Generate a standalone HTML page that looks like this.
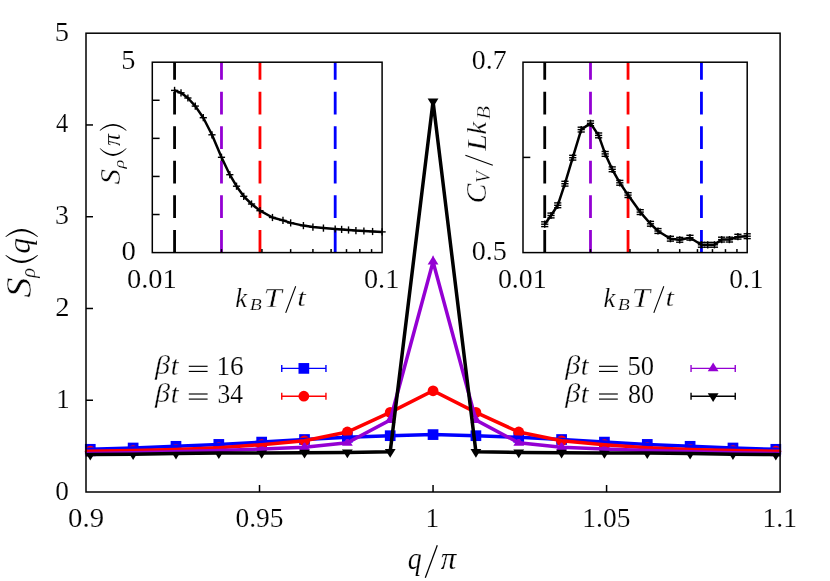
<!DOCTYPE html>
<html><head><meta charset="utf-8"><title>S_rho(q)</title>
<style>
html,body{margin:0;padding:0;background:#fff;}
body{width:830px;height:581px;overflow:hidden;font-family:"Liberation Serif",serif;}
svg{display:block;}
</style></head><body>
<svg width="830" height="581" viewBox="0 0 830 581">
<rect width="830" height="581" fill="#fff"/>
<defs><clipPath id="cm"><rect x="86.0" y="33.2" width="694.1" height="458.8"/></clipPath></defs>
<rect x="84.93" y="443.95" width="10.7" height="10.7" fill="#0000ff"/>
<rect x="127.78" y="442.65" width="10.7" height="10.7" fill="#0000ff"/>
<rect x="170.63" y="440.95" width="10.7" height="10.7" fill="#0000ff"/>
<rect x="213.47" y="439.05" width="10.7" height="10.7" fill="#0000ff"/>
<rect x="256.32" y="436.75" width="10.7" height="10.7" fill="#0000ff"/>
<rect x="299.16" y="434.15" width="10.7" height="10.7" fill="#0000ff"/>
<rect x="342.01" y="431.95" width="10.7" height="10.7" fill="#0000ff"/>
<rect x="384.85" y="430.35" width="10.7" height="10.7" fill="#0000ff"/>
<rect x="427.70" y="429.25" width="10.7" height="10.7" fill="#0000ff"/>
<rect x="470.55" y="430.35" width="10.7" height="10.7" fill="#0000ff"/>
<rect x="513.39" y="431.95" width="10.7" height="10.7" fill="#0000ff"/>
<rect x="556.24" y="434.15" width="10.7" height="10.7" fill="#0000ff"/>
<rect x="599.08" y="436.75" width="10.7" height="10.7" fill="#0000ff"/>
<rect x="641.93" y="439.05" width="10.7" height="10.7" fill="#0000ff"/>
<rect x="684.77" y="440.95" width="10.7" height="10.7" fill="#0000ff"/>
<rect x="727.62" y="442.65" width="10.7" height="10.7" fill="#0000ff"/>
<rect x="770.47" y="443.95" width="10.7" height="10.7" fill="#0000ff"/>
<circle cx="90.28" cy="451.20" r="5.4" fill="#ff0000"/>
<circle cx="133.13" cy="450.60" r="5.4" fill="#ff0000"/>
<circle cx="175.98" cy="449.50" r="5.4" fill="#ff0000"/>
<circle cx="218.82" cy="447.70" r="5.4" fill="#ff0000"/>
<circle cx="261.67" cy="444.70" r="5.4" fill="#ff0000"/>
<circle cx="304.51" cy="440.80" r="5.4" fill="#ff0000"/>
<circle cx="347.36" cy="432.00" r="5.4" fill="#ff0000"/>
<circle cx="390.20" cy="412.40" r="5.4" fill="#ff0000"/>
<circle cx="433.05" cy="390.80" r="5.4" fill="#ff0000"/>
<circle cx="475.90" cy="412.40" r="5.4" fill="#ff0000"/>
<circle cx="518.74" cy="432.00" r="5.4" fill="#ff0000"/>
<circle cx="561.59" cy="440.80" r="5.4" fill="#ff0000"/>
<circle cx="604.43" cy="444.70" r="5.4" fill="#ff0000"/>
<circle cx="647.28" cy="447.70" r="5.4" fill="#ff0000"/>
<circle cx="690.12" cy="449.50" r="5.4" fill="#ff0000"/>
<circle cx="732.97" cy="450.60" r="5.4" fill="#ff0000"/>
<circle cx="775.82" cy="451.20" r="5.4" fill="#ff0000"/>
<polygon points="90.28,447.50 84.88,456.30 95.68,456.30" fill="#9400d3"/>
<polygon points="133.13,446.80 127.73,455.60 138.53,455.60" fill="#9400d3"/>
<polygon points="175.98,445.80 170.58,454.60 181.38,454.60" fill="#9400d3"/>
<polygon points="218.82,444.60 213.42,453.40 224.22,453.40" fill="#9400d3"/>
<polygon points="261.67,443.10 256.27,451.90 267.07,451.90" fill="#9400d3"/>
<polygon points="304.51,441.40 299.11,450.20 309.91,450.20" fill="#9400d3"/>
<polygon points="347.36,436.90 341.96,445.70 352.76,445.70" fill="#9400d3"/>
<polygon points="390.20,414.10 384.80,422.90 395.60,422.90" fill="#9400d3"/>
<polygon points="433.05,255.80 427.65,264.60 438.45,264.60" fill="#9400d3"/>
<polygon points="475.90,414.10 470.50,422.90 481.30,422.90" fill="#9400d3"/>
<polygon points="518.74,436.90 513.34,445.70 524.14,445.70" fill="#9400d3"/>
<polygon points="561.59,441.40 556.19,450.20 566.99,450.20" fill="#9400d3"/>
<polygon points="604.43,443.10 599.03,451.90 609.83,451.90" fill="#9400d3"/>
<polygon points="647.28,444.60 641.88,453.40 652.68,453.40" fill="#9400d3"/>
<polygon points="690.12,445.80 684.72,454.60 695.52,454.60" fill="#9400d3"/>
<polygon points="732.97,446.80 727.57,455.60 738.37,455.60" fill="#9400d3"/>
<polygon points="775.82,447.50 770.42,456.30 781.22,456.30" fill="#9400d3"/>
<polygon points="90.28,460.50 84.88,451.70 95.68,451.70" fill="#000000"/>
<polygon points="133.13,460.10 127.73,451.30 138.53,451.30" fill="#000000"/>
<polygon points="175.98,459.50 170.58,450.70 181.38,450.70" fill="#000000"/>
<polygon points="218.82,459.00 213.42,450.20 224.22,450.20" fill="#000000"/>
<polygon points="261.67,458.80 256.27,450.00 267.07,450.00" fill="#000000"/>
<polygon points="304.51,458.60 299.11,449.80 309.91,449.80" fill="#000000"/>
<polygon points="347.36,458.30 341.96,449.50 352.76,449.50" fill="#000000"/>
<polygon points="390.20,457.70 384.80,448.90 395.60,448.90" fill="#000000"/>
<polygon points="433.05,107.30 427.65,98.50 438.45,98.50" fill="#000000"/>
<polygon points="475.90,457.70 470.50,448.90 481.30,448.90" fill="#000000"/>
<polygon points="518.74,458.30 513.34,449.50 524.14,449.50" fill="#000000"/>
<polygon points="561.59,458.60 556.19,449.80 566.99,449.80" fill="#000000"/>
<polygon points="604.43,458.80 599.03,450.00 609.83,450.00" fill="#000000"/>
<polygon points="647.28,459.00 641.88,450.20 652.68,450.20" fill="#000000"/>
<polygon points="690.12,459.50 684.72,450.70 695.52,450.70" fill="#000000"/>
<polygon points="732.97,460.10 727.57,451.30 738.37,451.30" fill="#000000"/>
<polygon points="775.82,460.50 770.42,451.70 781.22,451.70" fill="#000000"/>
<g clip-path="url(#cm)" fill="none" stroke-linejoin="miter" stroke-miterlimit="4" stroke-linecap="butt">
<polyline points="47.44,450.40 90.28,449.30 133.13,448.00 175.98,446.30 218.82,444.40 261.67,442.10 304.51,439.50 347.36,437.30 390.20,435.70 433.05,434.60 475.90,435.70 518.74,437.30 561.59,439.50 604.43,442.10 647.28,444.40 690.12,446.30 732.97,448.00 775.82,449.30 818.66,450.40" stroke="#0000ff" stroke-width="3.5"/>
<polyline points="47.44,451.60 90.28,451.20 133.13,450.60 175.98,449.50 218.82,447.70 261.67,444.70 304.51,440.80 347.36,432.00 390.20,412.40 433.05,390.80 475.90,412.40 518.74,432.00 561.59,440.80 604.43,444.70 647.28,447.70 690.12,449.50 732.97,450.60 775.82,451.20 818.66,451.60" stroke="#ff0000" stroke-width="3.5"/>
<polyline points="47.44,453.90 90.28,453.40 133.13,452.70 175.98,451.70 218.82,450.50 261.67,449.00 304.51,447.30 347.36,442.80 390.20,420.00 433.05,261.70 475.90,420.00 518.74,442.80 561.59,447.30 604.43,449.00 647.28,450.50 690.12,451.70 732.97,452.70 775.82,453.40 818.66,453.90" stroke="#9400d3" stroke-width="3.5"/>
<polyline points="47.44,454.90 90.28,454.60 133.13,454.20 175.98,453.60 218.82,453.10 261.67,452.90 304.51,452.70 347.36,452.40 390.20,451.80 433.05,101.40 475.90,451.80 518.74,452.40 561.59,452.70 604.43,452.90 647.28,453.10 690.12,453.60 732.97,454.20 775.82,454.60 818.66,454.90" stroke="#000000" stroke-width="3.5"/>
</g>
<g stroke="#000" stroke-width="1.5" fill="none">
<rect x="86.0" y="33.2" width="694.10" height="458.80"/>
<line x1="86.0" y1="400.24" x2="93.0" y2="400.24"/>
<line x1="86.0" y1="308.48" x2="93.0" y2="308.48"/>
<line x1="86.0" y1="216.72" x2="93.0" y2="216.72"/>
<line x1="86.0" y1="124.96" x2="93.0" y2="124.96"/>
<line x1="259.52" y1="492.0" x2="259.52" y2="485.0"/>
<line x1="433.05" y1="492.0" x2="433.05" y2="485.0"/>
<line x1="606.58" y1="492.0" x2="606.58" y2="485.0"/>
</g>
<g stroke="#0000ff" stroke-width="1.4"><line x1="281.75" y1="368.4" x2="325.95000000000005" y2="368.4"/><line x1="281.75" y1="364.9" x2="281.75" y2="371.9"/><line x1="325.95000000000005" y1="364.9" x2="325.95000000000005" y2="371.9"/></g>
<rect x="298.50" y="363.05" width="10.7" height="10.7" fill="#0000ff"/>
<g stroke="#ff0000" stroke-width="1.4"><line x1="281.75" y1="396.2" x2="325.95000000000005" y2="396.2"/><line x1="281.75" y1="392.7" x2="281.75" y2="399.7"/><line x1="325.95000000000005" y1="392.7" x2="325.95000000000005" y2="399.7"/></g>
<circle cx="303.85" cy="396.20" r="5.4" fill="#ff0000"/>
<g stroke="#9400d3" stroke-width="1.4"><line x1="691.05" y1="368.4" x2="735.25" y2="368.4"/><line x1="691.05" y1="364.9" x2="691.05" y2="371.9"/><line x1="735.25" y1="364.9" x2="735.25" y2="371.9"/></g>
<polygon points="713.15,362.50 707.75,371.30 718.55,371.30" fill="#9400d3"/>
<g stroke="#000000" stroke-width="1.4"><line x1="691.05" y1="396.2" x2="735.25" y2="396.2"/><line x1="691.05" y1="392.7" x2="691.05" y2="399.7"/><line x1="735.25" y1="392.7" x2="735.25" y2="399.7"/></g>
<polygon points="713.15,402.10 707.75,393.30 718.55,393.30" fill="#000000"/>
<g stroke="#000" stroke-width="1.15">
<line x1="188.8" y1="366.3" x2="207.6" y2="366.3"/>
<line x1="188.8" y1="371.4" x2="207.6" y2="371.4"/>
<line x1="188.8" y1="394.0" x2="207.6" y2="394.0"/>
<line x1="188.8" y1="399.1" x2="207.6" y2="399.1"/>
<line x1="599.0" y1="366.3" x2="617.8" y2="366.3"/>
<line x1="599.0" y1="371.4" x2="617.8" y2="371.4"/>
<line x1="599.0" y1="394.0" x2="617.8" y2="394.0"/>
<line x1="599.0" y1="399.1" x2="617.8" y2="399.1"/>
</g>
<rect x="152.3" y="62.2" width="229.80" height="190.40" fill="#fff"/>
<line x1="335.19" y1="252.6" x2="335.19" y2="62.2" stroke="#0000ff" stroke-width="2.8" stroke-dasharray="22.7 11.85"/>
<line x1="259.97" y1="252.6" x2="259.97" y2="62.2" stroke="#ff0000" stroke-width="2.8" stroke-dasharray="22.7 11.85"/>
<line x1="221.48" y1="252.6" x2="221.48" y2="62.2" stroke="#9400d3" stroke-width="2.8" stroke-dasharray="22.7 11.85"/>
<line x1="174.57" y1="252.6" x2="174.57" y2="62.2" stroke="#000000" stroke-width="2.8" stroke-dasharray="22.7 11.85"/>
<polyline points="174.57,90.40 181.01,92.80 187.90,98.00 195.29,106.10 203.28,117.70 211.96,134.80 221.48,157.30 229.80,174.70 236.53,186.20 243.75,196.30 251.53,204.00 259.97,210.70 272.46,217.50 282.97,220.40 290.65,222.90 303.41,225.60 312.92,227.10 323.44,228.10 335.19,229.00 341.63,229.40 348.52,230.00 355.92,230.60 363.90,231.00 372.59,231.50 382.10,231.90" fill="none" stroke="#000" stroke-width="2.5" stroke-linejoin="round"/>
<g stroke="#000" stroke-width="1.4">
<line x1="170.97" y1="90.40" x2="178.17" y2="90.40"/><line x1="174.57" y1="86.80" x2="174.57" y2="94.00"/>
<line x1="177.41" y1="92.80" x2="184.61" y2="92.80"/><line x1="181.01" y1="89.20" x2="181.01" y2="96.40"/>
<line x1="184.30" y1="98.00" x2="191.50" y2="98.00"/><line x1="187.90" y1="94.40" x2="187.90" y2="101.60"/>
<line x1="191.69" y1="106.10" x2="198.89" y2="106.10"/><line x1="195.29" y1="102.50" x2="195.29" y2="109.70"/>
<line x1="199.68" y1="117.70" x2="206.88" y2="117.70"/><line x1="203.28" y1="114.10" x2="203.28" y2="121.30"/>
<line x1="208.36" y1="134.80" x2="215.56" y2="134.80"/><line x1="211.96" y1="131.20" x2="211.96" y2="138.40"/>
<line x1="217.88" y1="157.30" x2="225.08" y2="157.30"/><line x1="221.48" y1="153.70" x2="221.48" y2="160.90"/>
<line x1="226.20" y1="174.70" x2="233.40" y2="174.70"/><line x1="229.80" y1="171.10" x2="229.80" y2="178.30"/>
<line x1="232.93" y1="186.20" x2="240.13" y2="186.20"/><line x1="236.53" y1="182.60" x2="236.53" y2="189.80"/>
<line x1="240.15" y1="196.30" x2="247.35" y2="196.30"/><line x1="243.75" y1="192.70" x2="243.75" y2="199.90"/>
<line x1="247.93" y1="204.00" x2="255.13" y2="204.00"/><line x1="251.53" y1="200.40" x2="251.53" y2="207.60"/>
<line x1="256.37" y1="210.70" x2="263.57" y2="210.70"/><line x1="259.97" y1="207.10" x2="259.97" y2="214.30"/>
<line x1="268.86" y1="217.50" x2="276.06" y2="217.50"/><line x1="272.46" y1="213.90" x2="272.46" y2="221.10"/>
<line x1="279.37" y1="220.40" x2="286.57" y2="220.40"/><line x1="282.97" y1="216.80" x2="282.97" y2="224.00"/>
<line x1="287.05" y1="222.90" x2="294.25" y2="222.90"/><line x1="290.65" y1="219.30" x2="290.65" y2="226.50"/>
<line x1="299.81" y1="225.60" x2="307.01" y2="225.60"/><line x1="303.41" y1="222.00" x2="303.41" y2="229.20"/>
<line x1="309.32" y1="227.10" x2="316.52" y2="227.10"/><line x1="312.92" y1="223.50" x2="312.92" y2="230.70"/>
<line x1="319.84" y1="228.10" x2="327.04" y2="228.10"/><line x1="323.44" y1="224.50" x2="323.44" y2="231.70"/>
<line x1="331.59" y1="229.00" x2="338.79" y2="229.00"/><line x1="335.19" y1="225.40" x2="335.19" y2="232.60"/>
<line x1="338.03" y1="229.40" x2="345.23" y2="229.40"/><line x1="341.63" y1="225.80" x2="341.63" y2="233.00"/>
<line x1="344.92" y1="230.00" x2="352.12" y2="230.00"/><line x1="348.52" y1="226.40" x2="348.52" y2="233.60"/>
<line x1="352.32" y1="230.60" x2="359.52" y2="230.60"/><line x1="355.92" y1="227.00" x2="355.92" y2="234.20"/>
<line x1="360.30" y1="231.00" x2="367.50" y2="231.00"/><line x1="363.90" y1="227.40" x2="363.90" y2="234.60"/>
<line x1="368.99" y1="231.50" x2="376.19" y2="231.50"/><line x1="372.59" y1="227.90" x2="372.59" y2="235.10"/>
<line x1="378.50" y1="231.90" x2="385.70" y2="231.90"/><line x1="382.10" y1="228.30" x2="382.10" y2="235.50"/>
</g>
<g stroke="#000" stroke-width="1.5" fill="none">
<rect x="152.3" y="62.2" width="229.80" height="190.40"/>
<line x1="152.3" y1="214.52" x2="159.60000000000002" y2="214.52"/>
<line x1="152.3" y1="176.44" x2="159.60000000000002" y2="176.44"/>
<line x1="152.3" y1="138.36" x2="159.60000000000002" y2="138.36"/>
<line x1="152.3" y1="100.28" x2="159.60000000000002" y2="100.28"/>
<line x1="221.48" y1="252.6" x2="221.48" y2="249.1"/>
<line x1="261.94" y1="252.6" x2="261.94" y2="249.1"/>
<line x1="290.65" y1="252.6" x2="290.65" y2="249.1"/>
<line x1="312.92" y1="252.6" x2="312.92" y2="249.1"/>
<line x1="331.12" y1="252.6" x2="331.12" y2="249.1"/>
<line x1="346.50" y1="252.6" x2="346.50" y2="249.1"/>
<line x1="359.83" y1="252.6" x2="359.83" y2="249.1"/>
<line x1="371.58" y1="252.6" x2="371.58" y2="249.1"/>
</g>
<rect x="523.0" y="62.2" width="224.20" height="190.40" fill="#fff"/>
<line x1="701.44" y1="252.6" x2="701.44" y2="62.2" stroke="#0000ff" stroke-width="2.8" stroke-dasharray="22.7 11.85"/>
<line x1="628.04" y1="252.6" x2="628.04" y2="62.2" stroke="#ff0000" stroke-width="2.8" stroke-dasharray="22.7 11.85"/>
<line x1="590.49" y1="252.6" x2="590.49" y2="62.2" stroke="#9400d3" stroke-width="2.8" stroke-dasharray="22.7 11.85"/>
<line x1="544.73" y1="252.6" x2="544.73" y2="62.2" stroke="#000000" stroke-width="2.8" stroke-dasharray="22.7 11.85"/>
<polyline points="544.73,224.20 551.01,215.50 557.73,205.30 564.94,183.70 572.74,157.70 581.21,129.60 590.49,123.30 598.61,135.40 605.18,153.90 612.22,169.30 619.81,182.80 628.04,195.10 640.23,212.10 650.49,223.80 657.98,231.00 670.43,238.70 679.71,239.80 689.97,237.70 701.44,244.80 707.72,244.80 714.44,244.80 721.65,239.60 729.45,239.60 737.92,236.70 747.20,236.20" fill="none" stroke="#000" stroke-width="2.5" stroke-linejoin="round"/>
<g stroke="#000" stroke-width="1.4">
<line x1="541.13" y1="224.20" x2="548.33" y2="224.20"/><line x1="544.73" y1="220.60" x2="544.73" y2="227.80"/>
<line x1="541.13" y1="221.80" x2="548.33" y2="221.80"/><line x1="541.13" y1="226.60" x2="548.33" y2="226.60"/>
<line x1="547.41" y1="215.50" x2="554.61" y2="215.50"/><line x1="551.01" y1="211.90" x2="551.01" y2="219.10"/>
<line x1="547.41" y1="213.10" x2="554.61" y2="213.10"/><line x1="547.41" y1="217.90" x2="554.61" y2="217.90"/>
<line x1="554.13" y1="205.30" x2="561.33" y2="205.30"/><line x1="557.73" y1="201.70" x2="557.73" y2="208.90"/>
<line x1="554.13" y1="202.90" x2="561.33" y2="202.90"/><line x1="554.13" y1="207.70" x2="561.33" y2="207.70"/>
<line x1="561.34" y1="183.70" x2="568.54" y2="183.70"/><line x1="564.94" y1="180.10" x2="564.94" y2="187.30"/>
<line x1="561.34" y1="181.30" x2="568.54" y2="181.30"/><line x1="561.34" y1="186.10" x2="568.54" y2="186.10"/>
<line x1="569.14" y1="157.70" x2="576.34" y2="157.70"/><line x1="572.74" y1="154.10" x2="572.74" y2="161.30"/>
<line x1="569.14" y1="155.30" x2="576.34" y2="155.30"/><line x1="569.14" y1="160.10" x2="576.34" y2="160.10"/>
<line x1="577.61" y1="129.60" x2="584.81" y2="129.60"/><line x1="581.21" y1="126.00" x2="581.21" y2="133.20"/>
<line x1="577.61" y1="127.20" x2="584.81" y2="127.20"/><line x1="577.61" y1="132.00" x2="584.81" y2="132.00"/>
<line x1="586.89" y1="123.30" x2="594.09" y2="123.30"/><line x1="590.49" y1="119.70" x2="590.49" y2="126.90"/>
<line x1="586.89" y1="120.90" x2="594.09" y2="120.90"/><line x1="586.89" y1="125.70" x2="594.09" y2="125.70"/>
<line x1="595.01" y1="135.40" x2="602.21" y2="135.40"/><line x1="598.61" y1="131.80" x2="598.61" y2="139.00"/>
<line x1="595.01" y1="133.00" x2="602.21" y2="133.00"/><line x1="595.01" y1="137.80" x2="602.21" y2="137.80"/>
<line x1="601.58" y1="153.90" x2="608.78" y2="153.90"/><line x1="605.18" y1="150.30" x2="605.18" y2="157.50"/>
<line x1="601.58" y1="151.50" x2="608.78" y2="151.50"/><line x1="601.58" y1="156.30" x2="608.78" y2="156.30"/>
<line x1="608.62" y1="169.30" x2="615.82" y2="169.30"/><line x1="612.22" y1="165.70" x2="612.22" y2="172.90"/>
<line x1="608.62" y1="166.90" x2="615.82" y2="166.90"/><line x1="608.62" y1="171.70" x2="615.82" y2="171.70"/>
<line x1="616.21" y1="182.80" x2="623.41" y2="182.80"/><line x1="619.81" y1="179.20" x2="619.81" y2="186.40"/>
<line x1="616.21" y1="180.40" x2="623.41" y2="180.40"/><line x1="616.21" y1="185.20" x2="623.41" y2="185.20"/>
<line x1="624.44" y1="195.10" x2="631.64" y2="195.10"/><line x1="628.04" y1="191.50" x2="628.04" y2="198.70"/>
<line x1="624.44" y1="192.70" x2="631.64" y2="192.70"/><line x1="624.44" y1="197.50" x2="631.64" y2="197.50"/>
<line x1="636.63" y1="212.10" x2="643.83" y2="212.10"/><line x1="640.23" y1="208.50" x2="640.23" y2="215.70"/>
<line x1="636.63" y1="209.70" x2="643.83" y2="209.70"/><line x1="636.63" y1="214.50" x2="643.83" y2="214.50"/>
<line x1="646.89" y1="223.80" x2="654.09" y2="223.80"/><line x1="650.49" y1="220.20" x2="650.49" y2="227.40"/>
<line x1="646.89" y1="221.40" x2="654.09" y2="221.40"/><line x1="646.89" y1="226.20" x2="654.09" y2="226.20"/>
<line x1="654.38" y1="231.00" x2="661.58" y2="231.00"/><line x1="657.98" y1="227.40" x2="657.98" y2="234.60"/>
<line x1="654.38" y1="228.60" x2="661.58" y2="228.60"/><line x1="654.38" y1="233.40" x2="661.58" y2="233.40"/>
<line x1="666.83" y1="238.70" x2="674.03" y2="238.70"/><line x1="670.43" y1="235.10" x2="670.43" y2="242.30"/>
<line x1="666.83" y1="236.30" x2="674.03" y2="236.30"/><line x1="666.83" y1="241.10" x2="674.03" y2="241.10"/>
<line x1="676.11" y1="239.80" x2="683.31" y2="239.80"/><line x1="679.71" y1="236.20" x2="679.71" y2="243.40"/>
<line x1="676.11" y1="237.40" x2="683.31" y2="237.40"/><line x1="676.11" y1="242.20" x2="683.31" y2="242.20"/>
<line x1="686.37" y1="237.70" x2="693.57" y2="237.70"/><line x1="689.97" y1="234.10" x2="689.97" y2="241.30"/>
<line x1="686.37" y1="235.30" x2="693.57" y2="235.30"/><line x1="686.37" y1="240.10" x2="693.57" y2="240.10"/>
<line x1="697.84" y1="244.80" x2="705.04" y2="244.80"/><line x1="701.44" y1="241.20" x2="701.44" y2="248.40"/>
<line x1="697.84" y1="242.40" x2="705.04" y2="242.40"/><line x1="697.84" y1="247.20" x2="705.04" y2="247.20"/>
<line x1="704.12" y1="244.80" x2="711.32" y2="244.80"/><line x1="707.72" y1="241.20" x2="707.72" y2="248.40"/>
<line x1="704.12" y1="242.40" x2="711.32" y2="242.40"/><line x1="704.12" y1="247.20" x2="711.32" y2="247.20"/>
<line x1="710.84" y1="244.80" x2="718.04" y2="244.80"/><line x1="714.44" y1="241.20" x2="714.44" y2="248.40"/>
<line x1="710.84" y1="242.40" x2="718.04" y2="242.40"/><line x1="710.84" y1="247.20" x2="718.04" y2="247.20"/>
<line x1="718.05" y1="239.60" x2="725.25" y2="239.60"/><line x1="721.65" y1="236.00" x2="721.65" y2="243.20"/>
<line x1="718.05" y1="237.20" x2="725.25" y2="237.20"/><line x1="718.05" y1="242.00" x2="725.25" y2="242.00"/>
<line x1="725.85" y1="239.60" x2="733.05" y2="239.60"/><line x1="729.45" y1="236.00" x2="729.45" y2="243.20"/>
<line x1="725.85" y1="237.20" x2="733.05" y2="237.20"/><line x1="725.85" y1="242.00" x2="733.05" y2="242.00"/>
<line x1="734.32" y1="236.70" x2="741.52" y2="236.70"/><line x1="737.92" y1="233.10" x2="737.92" y2="240.30"/>
<line x1="734.32" y1="234.30" x2="741.52" y2="234.30"/><line x1="734.32" y1="239.10" x2="741.52" y2="239.10"/>
<line x1="743.60" y1="236.20" x2="750.80" y2="236.20"/><line x1="747.20" y1="232.60" x2="747.20" y2="239.80"/>
<line x1="743.60" y1="233.80" x2="750.80" y2="233.80"/><line x1="743.60" y1="238.60" x2="750.80" y2="238.60"/>
</g>
<g stroke="#000" stroke-width="1.5" fill="none">
<rect x="523.0" y="62.2" width="224.20" height="190.40"/>
<line x1="523.0" y1="157.40" x2="530.3" y2="157.40"/>
<line x1="590.49" y1="252.6" x2="590.49" y2="249.1"/>
<line x1="629.97" y1="252.6" x2="629.97" y2="249.1"/>
<line x1="657.98" y1="252.6" x2="657.98" y2="249.1"/>
<line x1="679.71" y1="252.6" x2="679.71" y2="249.1"/>
<line x1="697.46" y1="252.6" x2="697.46" y2="249.1"/>
<line x1="712.47" y1="252.6" x2="712.47" y2="249.1"/>
<line x1="725.47" y1="252.6" x2="725.47" y2="249.1"/>
<line x1="736.94" y1="252.6" x2="736.94" y2="249.1"/>
</g>
<g fill="#000">
<path d="M5.4,255.4 Q21.70,270.40 38.0,255.4 L37.5,255.00 Q21.70,266.60 5.9,255.00 Z"/>
<path d="M5.4,236.6 Q21.70,221.60 38.0,236.6 L37.5,237.00 Q21.70,225.40 5.9,237.00 Z"/>
<path d="M99.6,148.6 Q113.10,163.20 126.6,148.6 L126.1,148.20 Q113.10,159.80 100.1,148.20 Z"/>
<path d="M99.6,130.3 Q113.10,117.50 126.6,130.3 L126.1,130.70 Q113.10,120.90 100.1,130.70 Z"/>
</g>
<g stroke="#000" stroke-linecap="butt">
<line x1="425.3" y1="577.8" x2="437.3" y2="545.2" stroke-width="1.25"/>
<line x1="285.7" y1="312.9" x2="295.7" y2="286.2" stroke-width="1.1"/>
<line x1="653.8" y1="312.9" x2="663.8" y2="286.2" stroke-width="1.1"/>
<line x1="492.8" y1="165.2" x2="465.4" y2="155.2" stroke-width="1.1"/>
</g>
<g font-family="'Liberation Serif', serif" fill="#000" opacity="0.99">
<text transform="translate(55.37,499.50) scale(1.0311,1.0350)" font-size="26.50" stroke="#fff" stroke-width="0.15">0</text>
<text transform="translate(56.13,407.74) scale(1.0105,1.0350)" font-size="26.50" stroke="#fff" stroke-width="0.15">1</text>
<text transform="translate(55.32,315.98) scale(1.0791,1.0350)" font-size="26.50" stroke="#fff" stroke-width="0.15">2</text>
<text transform="translate(55.08,224.22) scale(1.0545,1.0350)" font-size="26.50" stroke="#fff" stroke-width="0.15">3</text>
<text transform="translate(55.94,132.46) scale(0.9280,1.0350)" font-size="26.50" stroke="#fff" stroke-width="0.15">4</text>
<text transform="translate(54.78,40.70) scale(1.0791,1.0350)" font-size="26.50" stroke="#fff" stroke-width="0.15">5</text>
<text transform="translate(68.06,527.00) scale(1.0871,1.0350)" font-size="26.50" stroke="#fff" stroke-width="0.15">0.9</text>
<text transform="translate(235.44,527.00) scale(1.0360,1.0350)" font-size="26.50" stroke="#fff" stroke-width="0.15">0.95</text>
<text transform="translate(425.38,527.00) scale(1.0316,1.0350)" font-size="26.50" stroke="#fff" stroke-width="0.15">1</text>
<text transform="translate(582.37,527.00) scale(1.0358,1.0350)" font-size="26.50" stroke="#fff" stroke-width="0.15">1.05</text>
<text transform="translate(762.62,527.00) scale(1.0359,1.0350)" font-size="26.50" stroke="#fff" stroke-width="0.15">1.1</text>
<text transform="translate(407.63,569.27) scale(0.8702,0.9618)" font-size="32.00" stroke="#fff" stroke-width="0.20"><tspan font-style="italic">q</tspan></text>
<text transform="translate(440.76,569.42) scale(0.9697,0.9574)" font-size="32.00" stroke="#fff" stroke-width="0.20"><tspan font-style="italic">π</tspan></text>
<text transform="translate(30.83,297.82) rotate(-90) scale(1.2721,1.1448)" font-size="32.00" stroke="#fff" stroke-width="0.44"><tspan font-style="italic">S</tspan></text>
<text transform="translate(35.08,277.74) rotate(-90) scale(0.9116,0.9508)" font-size="22.40" stroke="#fff" stroke-width="0.20"><tspan font-style="italic">ρ</tspan></text>
<text transform="translate(29.74,253.69) rotate(-90) scale(0.9895,0.9798)" font-size="32.00" stroke="#fff" stroke-width="0.20"><tspan font-style="italic">q</tspan></text>
<text transform="translate(155.07,374.20) scale(1.1418,1.0082)" font-size="26.50" stroke="#fff" stroke-width="0.33"><tspan font-style="italic">β</tspan></text>
<text transform="translate(170.67,375.04) scale(1.0667,1.0230)" font-size="26.50" stroke="#fff" stroke-width="0.26"><tspan font-style="italic">t</tspan></text>
<text transform="translate(216.39,375.30) scale(1.0255,1.0350)" font-size="26.50" stroke="#fff" stroke-width="0.15">16</text>
<text transform="translate(155.07,401.90) scale(1.1418,1.0082)" font-size="26.50" stroke="#fff" stroke-width="0.33"><tspan font-style="italic">β</tspan></text>
<text transform="translate(170.67,402.74) scale(1.0667,1.0230)" font-size="26.50" stroke="#fff" stroke-width="0.26"><tspan font-style="italic">t</tspan></text>
<text transform="translate(217.49,403.00) scale(0.9640,1.0350)" font-size="26.50" stroke="#fff" stroke-width="0.15">34</text>
<text transform="translate(565.27,374.20) scale(1.1418,1.0082)" font-size="26.50" stroke="#fff" stroke-width="0.33"><tspan font-style="italic">β</tspan></text>
<text transform="translate(580.87,375.04) scale(1.0667,1.0230)" font-size="26.50" stroke="#fff" stroke-width="0.26"><tspan font-style="italic">t</tspan></text>
<text transform="translate(627.39,375.30) scale(1.0042,1.0350)" font-size="26.50" stroke="#fff" stroke-width="0.15">50</text>
<text transform="translate(565.27,401.90) scale(1.1418,1.0082)" font-size="26.50" stroke="#fff" stroke-width="0.33"><tspan font-style="italic">β</tspan></text>
<text transform="translate(580.87,402.74) scale(1.0667,1.0230)" font-size="26.50" stroke="#fff" stroke-width="0.26"><tspan font-style="italic">t</tspan></text>
<text transform="translate(627.92,403.00) scale(0.9837,1.0350)" font-size="26.50" stroke="#fff" stroke-width="0.15">80</text>
<text transform="translate(121.30,69.30) scale(1.0698,1.0350)" font-size="26.50" stroke="#fff" stroke-width="0.15">5</text>
<text transform="translate(121.52,259.60) scale(1.0844,1.0350)" font-size="26.50" stroke="#fff" stroke-width="0.15">0</text>
<text transform="translate(126.93,287.50) scale(1.0743,1.0350)" font-size="26.50" stroke="#fff" stroke-width="0.15">0.01</text>
<text transform="translate(363.93,287.50) scale(1.0689,1.0350)" font-size="26.50" stroke="#fff" stroke-width="0.15">0.1</text>
<text transform="translate(235.35,306.70) scale(1.0000,1.0054)" font-size="26.50" stroke="#fff" stroke-width="0.20"><tspan font-style="italic">k</tspan></text>
<text transform="translate(249.73,309.77) scale(1.0605,0.9200)" font-size="18.55" stroke="#fff" stroke-width="0.25"><tspan font-style="italic">B</tspan></text>
<text transform="translate(263.53,306.50) scale(1.2414,1.0114)" font-size="26.50" stroke="#fff" stroke-width="0.42"><tspan font-style="italic">T</tspan></text>
<text transform="translate(297.36,306.46) scale(1.1556,0.9574)" font-size="26.50" stroke="#fff" stroke-width="0.34"><tspan font-style="italic">t</tspan></text>
<text transform="translate(603.45,306.70) scale(1.0000,1.0054)" font-size="26.50" stroke="#fff" stroke-width="0.20"><tspan font-style="italic">k</tspan></text>
<text transform="translate(617.83,309.77) scale(1.0605,0.9200)" font-size="18.55" stroke="#fff" stroke-width="0.25"><tspan font-style="italic">B</tspan></text>
<text transform="translate(631.63,306.50) scale(1.2414,1.0114)" font-size="26.50" stroke="#fff" stroke-width="0.42"><tspan font-style="italic">T</tspan></text>
<text transform="translate(665.46,306.46) scale(1.1556,0.9574)" font-size="26.50" stroke="#fff" stroke-width="0.34"><tspan font-style="italic">t</tspan></text>
<text transform="translate(120.42,184.59) rotate(-90) scale(1.1680,1.1167)" font-size="26.50" stroke="#fff" stroke-width="0.35"><tspan font-style="italic">S</tspan></text>
<text transform="translate(124.34,168.60) rotate(-90) scale(1.0000,0.8157)" font-size="18.55" stroke="#fff" stroke-width="0.20"><tspan font-style="italic">ρ</tspan></text>
<text transform="translate(120.27,146.10) rotate(-90) scale(0.9214,0.9280)" font-size="26.50" stroke="#fff" stroke-width="0.20"><tspan font-style="italic">π</tspan></text>
<text transform="translate(471.75,69.30) scale(1.0540,1.0350)" font-size="26.50" stroke="#fff" stroke-width="0.15">0.7</text>
<text transform="translate(471.74,259.60) scale(1.0624,1.0350)" font-size="26.50" stroke="#fff" stroke-width="0.15">0.5</text>
<text transform="translate(497.95,287.50) scale(1.0514,1.0350)" font-size="26.50" stroke="#fff" stroke-width="0.15">0.01</text>
<text transform="translate(729.27,287.50) scale(1.0328,1.0350)" font-size="26.50" stroke="#fff" stroke-width="0.15">0.1</text>
<text transform="translate(486.41,203.39) rotate(-90) scale(1.1273,1.1444)" font-size="26.50" stroke="#fff" stroke-width="0.33"><tspan font-style="italic">C</tspan></text>
<text transform="translate(489.66,182.94) rotate(-90) scale(1.0367,1.0824)" font-size="18.55" stroke="#fff" stroke-width="0.27"><tspan font-style="italic">V</tspan></text>
<text transform="translate(486.00,150.82) rotate(-90) scale(1.1200,1.0686)" font-size="26.50" stroke="#fff" stroke-width="0.31"><tspan font-style="italic">L</tspan></text>
<text transform="translate(486.00,134.40) rotate(-90) scale(1.0696,1.0162)" font-size="26.50" stroke="#fff" stroke-width="0.26"><tspan font-style="italic">k</tspan></text>
<text transform="translate(489.55,119.40) rotate(-90) scale(1.1907,0.9840)" font-size="18.55" stroke="#fff" stroke-width="0.37"><tspan font-style="italic">B</tspan></text>
</g>
</svg>
</body></html>
